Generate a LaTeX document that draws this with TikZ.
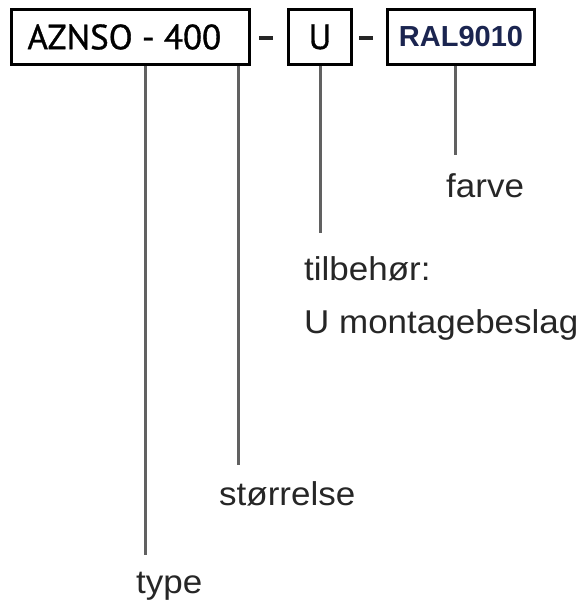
\documentclass[tikz,border=0pt]{standalone}
\usepackage{fontspec}
\setmainfont{Liberation Sans}
\newfontfamily\boxfont[FakeBold=1]{PT Sans}
\begin{document}
\begin{tikzpicture}[x=1pt,y=-1pt,
  codebox/.style={draw=black,line width=3pt,inner sep=0pt,anchor=north west},
  conn/.style={draw=black!62,line width=3pt},
  dashmark/.style={inner sep=0pt,fill=black!85,minimum width=14pt,minimum height=3.5pt},
  lbl/.style={font=\fontsize{33}{37}\selectfont\addfontfeature{FakeStretch=1.06},text=black!85,inner sep=0pt,anchor=west}]
\useasboundingbox (0,0) rectangle (583,612);
\node[codebox,minimum width=238pt,minimum height=55pt] (b1) at (10,8)
  {\makebox[238pt][l]{\hspace*{16pt}\boxfont\fontsize{35}{35}\selectfont AZNSO - 400}};
\node[codebox,minimum width=63pt,minimum height=55pt] (b2) at (287,8)
  {\boxfont\fontsize{35}{35}\selectfont U};
\node[codebox,minimum width=147pt,minimum height=55pt] (b3) at (386,8)
  {\fontsize{29}{29}\selectfont\bfseries\color[HTML]{1B2550}RAL9010};
\node[dashmark] (d1) at (266,38) {};
\node[dashmark] (d2) at (366,38) {};
\coordinate (c1) at (145,555);
\coordinate (c2) at (238,465);
\coordinate (c3) at (320,233);
\coordinate (c4) at (455,155);
\draw[conn] (b1.south -| c1) -- (c1);
\draw[conn] (b1.south -| c2) -- (c2);
\draw[conn] (b2.south -| c3) -- (c3);
\draw[conn] (b3.south -| c4) -- (c4);
\node[lbl] (farve) at (446,186) {farve};
\node[lbl] (tilb) at (304,269) {tilbehør:};
\node[lbl] (mont) at (304,325) {U montagebeslag};
\node[lbl] (stor) at (219,494) {størrelse};
\node[lbl] (type) at (136,586) {type};
\end{tikzpicture}
\end{document}
